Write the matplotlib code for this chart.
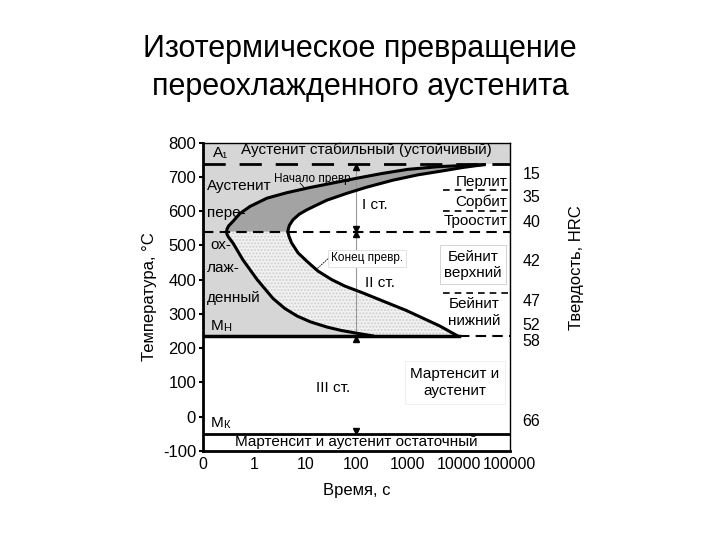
import numpy as np
import matplotlib
matplotlib.use('Agg')
import matplotlib.pyplot as plt

plt.rcParams['font.family'] = ['Liberation Sans', 'DejaVu Sans']
plt.rcParams['axes.unicode_minus'] = False

# уровни температур, °C
A1 = 738
NOSE = 540
MN = 236
MK = -50

# ось времени: позиция 0..6, подписи
x_ticks = [0, 1, 2, 3, 4, 5, 6]
x_labels = ['0', '1', '10', '100', '1000', '10000', '100000']
y_ticks = [-100, 0, 100, 200, 300, 400, 500, 600, 700, 800]

# кривая начала превращения (от носа вверх и вниз)
start_up_x = [0.46, 0.47, 0.50, 0.59, 0.72, 0.92, 1.25, 1.64, 2.09, 2.60, 3.00, 3.50, 4.00, 4.60, 5.50]
start_up_y = [540, 548, 557, 571, 593, 614, 638, 654, 669, 684, 696, 710, 722, 730, 736]
start_lo_x = [0.46, 0.47, 0.50, 0.59, 0.78, 1.06, 1.37, 1.60, 1.84, 2.10, 2.42, 2.70, 3.00, 3.32]
start_lo_y = [540, 532, 524, 506, 458, 400, 345, 316, 294, 277, 262, 252, 244, 236]

# кривая конца превращения
end_up_x = [1.66, 1.67, 1.69, 1.76, 1.88, 2.03, 2.42, 2.81, 3.20, 3.70, 4.20, 4.70, 5.10, 5.50]
end_up_y = [540, 549, 559, 575, 591, 604, 632, 652, 670, 690, 706, 718, 728, 736]
end_lo_x = [1.66, 1.68, 1.73, 1.86, 2.06, 2.25, 2.52, 2.78, 3.10, 3.98, 4.63, 4.98]
end_lo_y = [540, 527, 508, 478, 450, 425, 400, 381, 363, 310, 265, 236]

# твердость HRC справа
hrc_labels = ['15', '35', '40', '42', '47', '52', '58', '66']
hrc_y = [707, 640, 567, 453, 336, 266, 219, -14]

fig = plt.figure(figsize=(7.2, 5.4), dpi=100)
ax = fig.add_axes([0.282, 0.1648, 0.426, 0.571])
ax.set_xlim(0, 6)
ax.set_ylim(-100, 800)

light = '#d6d6d6'
dark = '#a3a3a3'

# заливки
ax.axhspan(MN, 800, color=light, lw=0, zorder=0)
wx = end_up_x + [5.6, 6, 6] + end_lo_x[::-1]
wy = end_up_y + [A1, A1, MN] + end_lo_y[::-1]
ax.fill(wx, wy, color='white', lw=0, zorder=1)
ax.fill(start_up_x + end_up_x[::-1], start_up_y + end_up_y[::-1], color=dark, lw=0, zorder=1)
ax.fill(start_lo_x + end_lo_x[::-1], start_lo_y + end_lo_y[::-1],
        facecolor='#f2f2f2', edgecolor='#cfcfcf', hatch='.....', lw=0, zorder=1)

# кривые
ax.plot(start_lo_x[::-1] + start_up_x[1:], start_lo_y[::-1] + start_up_y[1:], color='black', lw=2.2,
        solid_joinstyle='round', zorder=4)
ax.plot(end_lo_x[::-1] + end_up_x[1:], end_lo_y[::-1] + end_up_y[1:], color='black', lw=2.2,
        solid_joinstyle='round', zorder=4)

# горизонтальные линии
ax.plot([0, 6], [A1, A1], color='black', lw=2, ls=(0, (8, 5)), zorder=3)
ax.plot([0, 6], [NOSE, NOSE], color='black', lw=1.5, ls=(0, (5, 3)), zorder=3)
ax.plot([0, 5], [MN, MN], color='black', lw=2.5, zorder=4)
ax.plot([5, 6], [MN, MN], color='black', lw=1.5, ls=(0, (5, 3)), zorder=3)
ax.plot([0, 6], [MK, MK], color='black', lw=2, zorder=4)

# короткие штриховые линии справа
for yy in [663, 601, 362]:
    ax.plot([4.7, 6], [yy, yy], color='black', lw=1.2, ls=(0, (4, 3)), zorder=3)

# вертикальная линия 100 с и стрелки
ax.plot([3, 3], [MN, A1], color='#999999', lw=0.8, zorder=2)
ax.plot(3, A1 - 9, marker='^', color='black', ms=5, zorder=5)
ax.plot(3, NOSE + 8, marker='v', color='black', ms=4.5, zorder=5)
ax.plot(3, NOSE - 8, marker='^', color='black', ms=4.5, zorder=5)
ax.plot(3, MN - 10, marker='^', color='black', ms=5, zorder=5)
ax.plot(3, MK + 9, marker='v', color='black', ms=4, zorder=5)

# подписи областей
fs = 11
ax.text(0.2, 770, 'A₁', fontsize=fs, ha='left', va='center')
ax.text(3.19, 780, 'Аустенит стабильный (устойчивый)', fontsize=fs, ha='center', va='center')
ax.text(0.08, 674, 'Аустенит', fontsize=fs, va='center')
ax.text(0.08, 596, 'пере-', fontsize=fs, va='center')
ax.text(0.15, 502, 'ох-', fontsize=fs, va='center')
ax.text(0.08, 435, 'лаж-', fontsize=fs, va='center')
ax.text(0.08, 348, 'денный', fontsize=fs, va='center')
ax.text(0.15, 266, 'М', fontsize=fs, va='center')
ax.text(0.40, 258, 'Н', fontsize=8, va='center')
ax.text(0.15, -17, 'М', fontsize=fs, va='center')
ax.text(0.40, -23, 'К', fontsize=8, va='center')
ax.text(1.38, 694, 'Начало превр', fontsize=8.5, va='center', zorder=6)
ax.plot([1.9, 2.0], [682, 665], color='black', lw=0.6, zorder=5)
ax.text(2.5, 462, 'Конец превр.', fontsize=8.5, va='center', zorder=6,
        bbox=dict(facecolor='white', edgecolor='#dddddd', lw=0.6, pad=2))
ax.plot([2.48, 2.2], [466, 428], color='black', lw=0.6, ls=(0, (2, 1)), zorder=5)
ax.text(3.36, 619, 'I ст.', fontsize=fs, va='center', ha='center')
ax.text(3.46, 391, 'II ст.', fontsize=fs, va='center', ha='center')
ax.text(2.54, 85, 'III ст.', fontsize=fs, va='center', ha='center')
ax.text(5.95, 686, 'Перлит', fontsize=fs, va='center', ha='right')
ax.text(5.95, 628, 'Сорбит', fontsize=fs, va='center', ha='right')
ax.text(5.95, 572, 'Троостит', fontsize=fs, va='center', ha='right')
ax.text(5.28, 444, 'Бейнит\nверхний', fontsize=fs, va='center', ha='center', linespacing=1.2,
        bbox=dict(facecolor='white', edgecolor='#cccccc', lw=0.6, pad=3))
ax.text(5.3, 304, 'Бейнит\nнижний', fontsize=fs, va='center', ha='center', linespacing=1.2)
ax.text(4.93, 100, 'Мартенсит и\nаустенит', fontsize=fs, va='center', ha='center', linespacing=1.3,
        bbox=dict(facecolor='white', edgecolor='#eeeeee', lw=0.6, pad=4))
ax.text(3.0, -75, 'Мартенсит и аустенит остаточный', fontsize=fs, va='center', ha='center')

for lab, yy in zip(hrc_labels, hrc_y):
    ax.text(6.25, yy, lab, fontsize=11.5, va='center', ha='left', clip_on=False)
ax.text(7.3, 435, 'Твердость, HRC', fontsize=12, rotation=90, va='center', ha='center', clip_on=False)

# оси
ax.set_xticks(x_ticks)
ax.set_xticklabels(x_labels)
ax.set_yticks(y_ticks)
ax.tick_params(axis='both', labelsize=12, length=3, width=1.5, pad=2)
ax.tick_params(axis='x', length=0, pad=4, labelsize=11.5)
ax.set_xlabel('Время, с', fontsize=12, labelpad=8)
ax.set_ylabel('Температура, °С', fontsize=12, labelpad=4)
for s in ['left', 'bottom']:
    ax.spines[s].set_linewidth(2)
for s in ['top', 'right']:
    ax.spines[s].set_linewidth(1)

fig.text(0.5, 0.874, 'Изотермическое превращение\nпереохлажденного аустенита',
         fontsize=22, ha='center', va='center', linespacing=1.35)

fig.savefig('out.png', dpi=100)
